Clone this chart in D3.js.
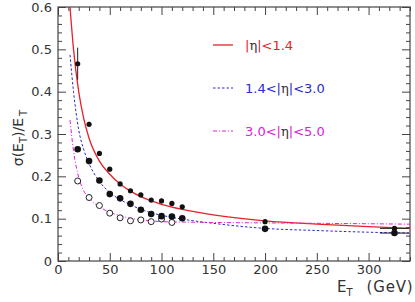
<!DOCTYPE html>
<html>
<head>
<meta charset="utf-8">
<script src="https://cdn.jsdelivr.net/npm/d3@7"></script>
<style>
  body { margin: 0; background: #fff; }
  text { font-family: "DejaVu Sans", Verdana, sans-serif; }
</style>
</head>
<body>
<div id="chart"></div>
<script>
// measured points, E_T in GeV
const etPoints = [19, 30, 40, 50, 60, 70, 80, 90, 100, 110, 120];
const resCentral = [0.466, 0.323, 0.254, 0.217, 0.182, 0.166, 0.156, 0.144, 0.142, 0.136, 0.128];
const resEndcap = [0.264, 0.236, 0.190, 0.158, 0.148, 0.135, 0.121, 0.111, 0.106, 0.105, 0.101];
const resForward = [0.189, 0.150, 0.131, 0.113, 0.102, 0.095, 0.097, 0.093, 0.099, 0.091];
const errCentral = [0.038, 0.006, 0.005, 0.004, 0.004, 0.003, 0.003, 0.003, 0.003, 0.003, 0.003];

// high-E points
const etHigh = [200, 325];
const etHighErr = [0, 13];
const resCentralHigh = [0.093, 0.077];
const resEndcapHigh = [0.076, 0.066];

// fitted curves
const curveE = [11.6, 15, 20, 25, 30, 40, 50, 60, 70, 80, 90, 100, 120, 150, 200, 250, 300, 340];
const fitCentral = [0.60, 0.50, 0.40, 0.335, 0.29, 0.236, 0.205, 0.182, 0.165, 0.152, 0.142, 0.134, 0.122, 0.109, 0.095, 0.087, 0.081, 0.077];
const fitEndcap = [0.487, 0.40, 0.31, 0.262, 0.230, 0.188, 0.162, 0.145, 0.133, 0.122, 0.114, 0.108, 0.099, 0.089, 0.077, 0.072, 0.068, 0.066];
const fitForward = [0.333, 0.26, 0.198, 0.165, 0.148, 0.128, 0.115, 0.107, 0.101, 0.097, 0.095, 0.093, 0.092, 0.091, 0.090, 0.089, 0.088, 0.087];

const legendLabels = [["", "<1.4"], ["1.4<", "<3.0"], ["3.0<", "<5.0"]];
const legendColors = ["#e8202a", "#2a2ad0", "#e020d8"];
const legendDash = [null, "2.5,2", "4,2,1,2"];

const width = 415, height = 302;
const margin = { left: 58, right: 5, top: 7, bottom: 41 };

const svg = d3.select("#chart").append("svg")
    .attr("width", width)
    .attr("height", height);

const x = d3.scaleLinear().domain([0, 340]).range([margin.left, width - margin.right]);
const y = d3.scaleLinear().domain([0, 0.6]).range([height - margin.bottom, margin.top]);

const axisColor = "#444";

// clip for curves
svg.append("clipPath").attr("id", "plotclip")
    .append("rect")
    .attr("x", x(0)).attr("y", y(0.6))
    .attr("width", x(340) - x(0)).attr("height", y(0) - y(0.6));

// ticks on all four sides, pointing inwards
const xMajor = d3.range(0, 341, 50);
const xMinor = d3.range(0, 341, 10).filter(v => v % 50 !== 0);
const yMajor = d3.range(0, 0.61, 0.1);
const yMinor = d3.range(0, 0.601, 0.02).filter(v => Math.abs(v * 10 - Math.round(v * 10)) > 0.01);

svg.append("g")
    .attr("transform", `translate(0,${y(0)})`)
    .call(d3.axisBottom(x).tickValues(xMajor).tickSize(-8).tickPadding(4).tickFormat(d3.format("d")))
    .call(g => g.select(".domain").remove());
svg.append("g")
    .attr("transform", `translate(0,${y(0)})`)
    .call(d3.axisBottom(x).tickValues(xMinor).tickSize(-4).tickFormat(""))
    .call(g => g.select(".domain").remove());
svg.append("g")
    .attr("transform", `translate(0,${y(0.6)})`)
    .call(d3.axisTop(x).tickValues(xMajor).tickSize(-8).tickFormat(""))
    .call(g => g.select(".domain").remove());
svg.append("g")
    .attr("transform", `translate(0,${y(0.6)})`)
    .call(d3.axisTop(x).tickValues(xMinor).tickSize(-4).tickFormat(""))
    .call(g => g.select(".domain").remove());

svg.append("g")
    .attr("transform", `translate(${x(0)},0)`)
    .call(d3.axisLeft(y).tickValues(yMajor).tickSize(-8).tickPadding(6).tickFormat(d => d === 0 ? "0" : d3.format(".1f")(d)))
    .call(g => g.select(".domain").remove());
svg.append("g")
    .attr("transform", `translate(${x(0)},0)`)
    .call(d3.axisLeft(y).tickValues(yMinor).tickSize(-4).tickFormat(""))
    .call(g => g.select(".domain").remove());
svg.append("g")
    .attr("transform", `translate(${x(340)},0)`)
    .call(d3.axisRight(y).tickValues(yMajor).tickSize(-8).tickFormat(""))
    .call(g => g.select(".domain").remove());
svg.append("g")
    .attr("transform", `translate(${x(340)},0)`)
    .call(d3.axisRight(y).tickValues(yMinor).tickSize(-4).tickFormat(""))
    .call(g => g.select(".domain").remove());

svg.selectAll(".tick line").attr("stroke", axisColor);
svg.selectAll(".tick text").attr("font-size", 13).attr("fill", "#333")
    .attr("font-family", "DejaVu Sans, sans-serif");

svg.append("rect")
    .attr("x", x(0)).attr("y", y(0.6))
    .attr("width", x(340) - x(0)).attr("height", y(0) - y(0.6))
    .attr("fill", "none").attr("stroke", axisColor).attr("stroke-width", 1.2);

// fit curves
const fits = [fitCentral, fitEndcap, fitForward];
const line = d3.line()
    .x((d, i) => x(curveE[i]))
    .y(d => y(d))
    .curve(d3.curveMonotoneX);

fits.forEach((f, k) => {
    svg.append("path")
        .datum(f)
        .attr("clip-path", "url(#plotclip)")
        .attr("d", line)
        .attr("fill", "none")
        .attr("stroke", legendColors[k])
        .attr("stroke-width", k === 0 ? 1.3 : 1)
        .attr("stroke-dasharray", legendDash[k]);
});

// error bars
const errG = svg.append("g").attr("stroke", "#222").attr("stroke-width", 1);
etPoints.forEach((e, i) => {
    errG.append("line")
        .attr("x1", x(e)).attr("x2", x(e))
        .attr("y1", y(resCentral[i] - errCentral[i])).attr("y2", y(resCentral[i] + errCentral[i]));
    errG.append("line")
        .attr("x1", x(e - 2)).attr("x2", x(e + 2))
        .attr("y1", y(resCentral[i])).attr("y2", y(resCentral[i]));
});
etHigh.forEach((e, i) => {
    [resCentralHigh[i], resEndcapHigh[i]].forEach(v => {
        errG.append("line")
            .attr("x1", x(e - etHighErr[i] - 1)).attr("x2", x(e + etHighErr[i] + 1))
            .attr("y1", y(v)).attr("y2", y(v));
        errG.append("line")
            .attr("x1", x(e)).attr("x2", x(e))
            .attr("y1", y(v - 0.004)).attr("y2", y(v + 0.004));
    });
});

// markers
svg.append("g").selectAll("circle")
    .data(resForward)
    .join("circle")
    .attr("cx", (d, i) => x(etPoints[i]))
    .attr("cy", d => y(d))
    .attr("r", 3)
    .attr("fill", "#fff")
    .attr("stroke", "#222")
    .attr("stroke-width", 1);

svg.append("g").selectAll("circle")
    .data(resEndcap.concat(resEndcapHigh))
    .join("circle")
    .attr("cx", (d, i) => x(etPoints.concat(etHigh)[i]))
    .attr("cy", d => y(d))
    .attr("r", 3.3)
    .attr("fill", "#111");

svg.append("g").selectAll("circle")
    .data(resCentral.concat(resCentralHigh))
    .join("circle")
    .attr("cx", (d, i) => x(etPoints.concat(etHigh)[i]))
    .attr("cy", d => y(d))
    .attr("r", 2.6)
    .attr("fill", "#111");

// legend
const legend = svg.append("g");
legendLabels.forEach((lab, k) => {
    const ly = 45 + k * 43;
    legend.append("line")
        .attr("x1", 213).attr("x2", 233)
        .attr("y1", ly).attr("y2", ly)
        .attr("stroke", legendColors[k])
        .attr("stroke-width", k === 0 ? 1.3 : 1)
        .attr("stroke-dasharray", legendDash[k]);
    const t = legend.append("text")
        .attr("x", 245).attr("y", ly + 4.5)
        .attr("font-size", 13)
        .attr("fill", legendColors[k]);
    t.append("tspan").text(lab[0]);
    t.append("tspan").text("|");
    t.append("tspan").attr("font-family", "DejaVu Serif, serif").attr("fill", "#333").text("η");
    t.append("tspan").text("|");
    t.append("tspan").text(lab[1]);
});

// axis titles
const xt = svg.append("text")
    .attr("x", 337).attr("y", 292)
    .attr("font-size", 15)
    .attr("fill", "#333");
xt.append("tspan").text("E");
xt.append("tspan").attr("font-size", 10).attr("dy", 4).text("T");
xt.append("tspan").attr("dy", -4).attr("dx", 14).attr("letter-spacing", 0.8).text("(GeV)");

const yt = svg.append("text")
    .attr("transform", "translate(23,138) rotate(-90)")
    .attr("text-anchor", "middle")
    .attr("font-size", 14)
    .attr("fill", "#333");
yt.append("tspan").text("σ(E");
yt.append("tspan").attr("font-size", 10).attr("dy", 4).text("T");
yt.append("tspan").attr("dy", -4).text(")/E");
yt.append("tspan").attr("font-size", 10).attr("dy", 4).attr("dx", 2).text("T");
</script>
</body>
</html>
